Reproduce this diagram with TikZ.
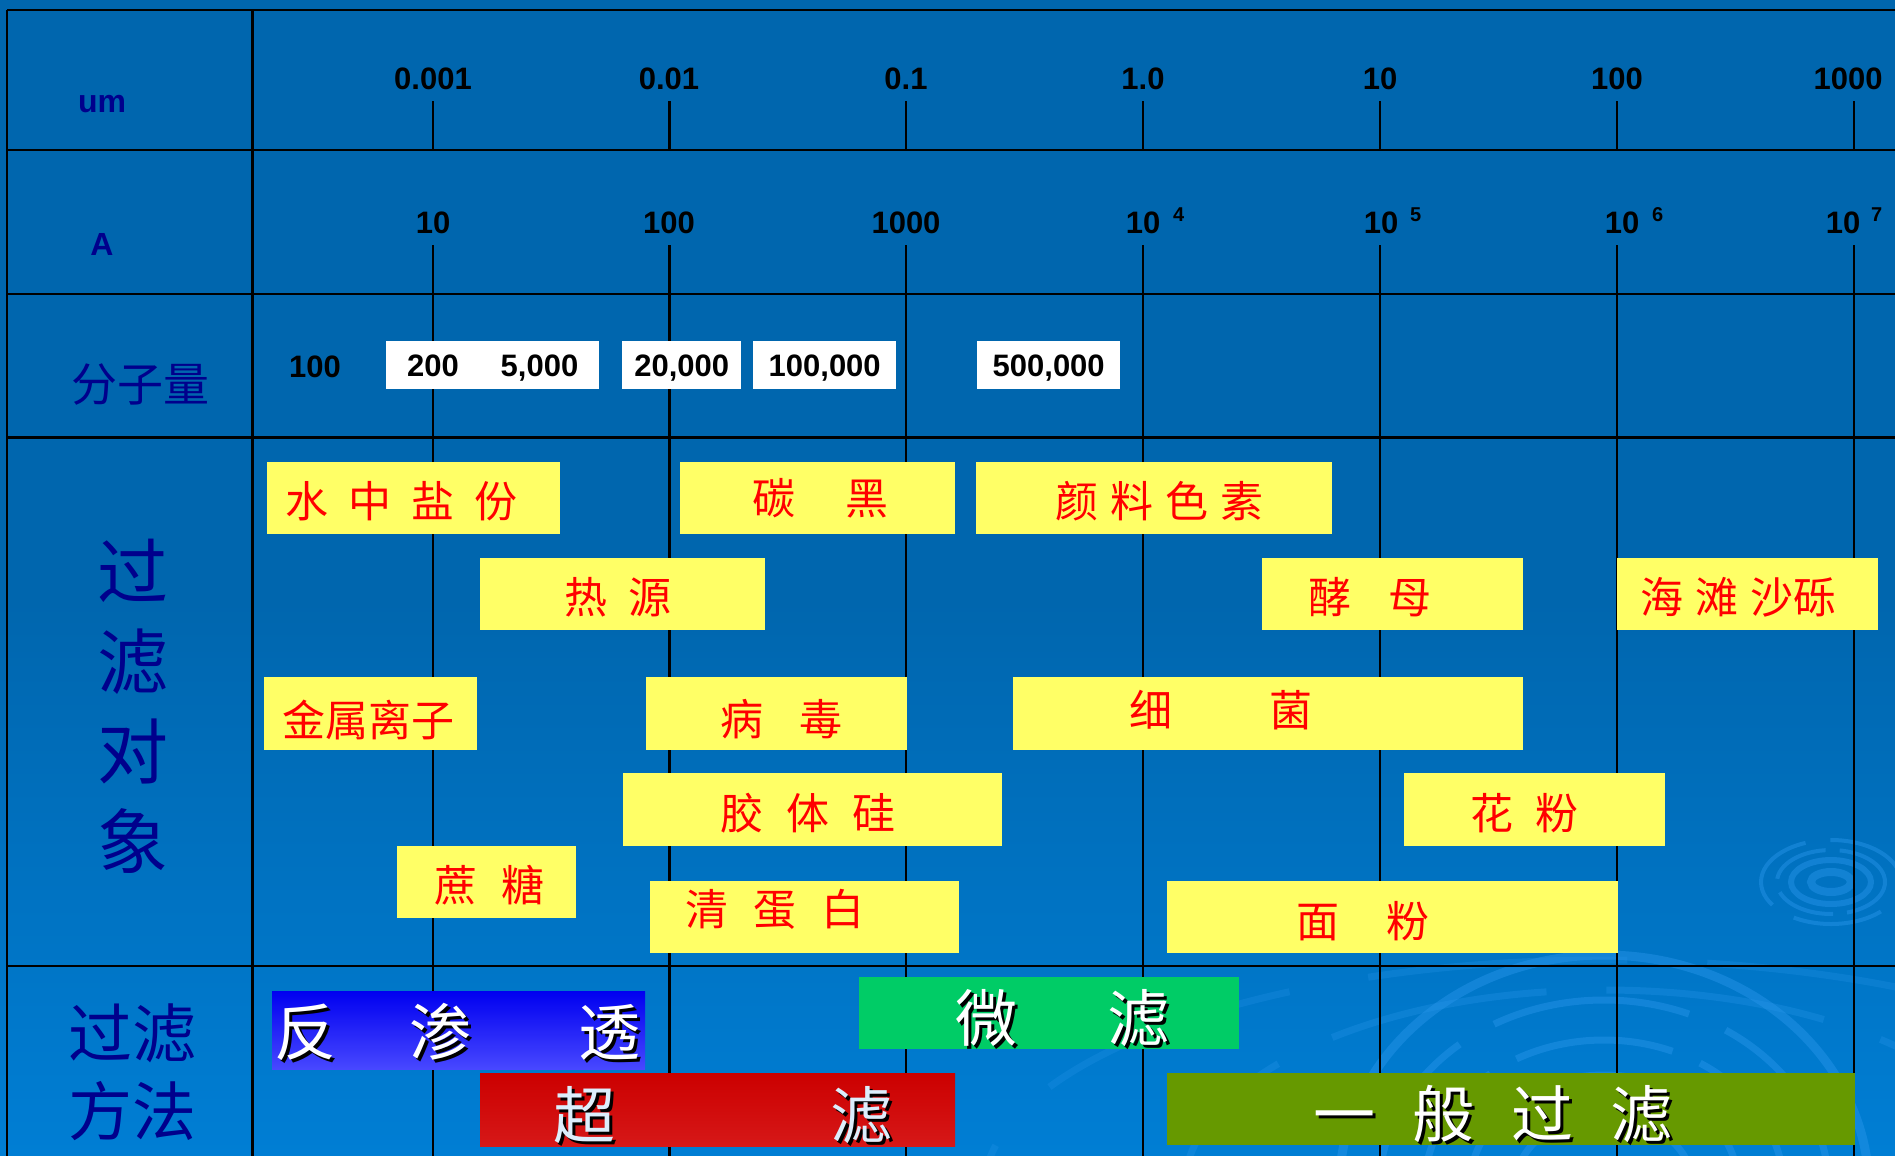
\documentclass[tikz,border=0pt]{standalone}
\usepackage{fontspec}
\setmainfont{Liberation Sans}
\newfontfamily\cjk{Noto Sans CJK SC}
\usetikzlibrary{calc}
\definecolor{bgtop}{RGB}{0,102,174}
\definecolor{bgbot}{RGB}{0,126,212}
\definecolor{navytxt}{RGB}{0,0,140}
\definecolor{yfill}{RGB}{255,255,102}
\definecolor{rtext}{RGB}{255,0,0}
\definecolor{ripplec}{RGB}{40,150,235}
\definecolor{roblueA}{RGB}{0,0,240}
\definecolor{roblueB}{RGB}{72,72,255}
\definecolor{ufredA}{RGB}{204,0,0}
\definecolor{ufredB}{RGB}{214,24,24}
\definecolor{mfgreen}{RGB}{0,204,102}
\definecolor{gfolive}{RGB}{102,153,0}
\definecolor{ufwhite}{RGB}{220,238,252}
\begin{document}
\begin{tikzpicture}[x=1pt,y=-1pt,
  gridln/.style={line width=2.2pt,black},
  numlab/.style={font=\fontsize{31}{31}\selectfont\bfseries,anchor=base,inner sep=0pt},
  suplab/.style={font=\fontsize{20}{20}\selectfont\bfseries,anchor=base west,inner sep=0pt},
  axislab/.style={font=\fontsize{32}{32}\selectfont\bfseries,text=navytxt,anchor=base,inner sep=0pt},
  wbox/.style={fill=white,anchor=north west,inner sep=0pt,text height=22pt,text depth=0pt,font=\fontsize{31}{31}\selectfont\bfseries},
  ybox/.style={fill=yfill,anchor=north west,inner sep=0pt},
  objtext/.style={font=\cjk\fontsize{43}{43}\selectfont,text=rtext,anchor=west,inner sep=0pt},
  mbox/.style={anchor=north west,inner sep=0pt},
  shadowtxt/.style={font=\cjk\fontsize{62}{62}\selectfont,text=black,anchor=west,inner sep=0pt},
  whitetxt/.style={font=\cjk\fontsize{62}{62}\selectfont,text=white,anchor=west,inner sep=0pt},
  ripple/.style={draw=ripplec,line width=7pt,opacity=0.45}
]
\useasboundingbox (0,0) rectangle (1895,1156);
% background
\fill[bgtop] (0,0) rectangle (1895,1156);
\shade[top color=bgtop,bottom color=bgbot] (0,600) rectangle (1895,1156);

% ripples (small)
\draw[ripple,line width=8pt] (1831,882) ellipse [x radius=20pt,y radius=10pt];
\draw[ripple,line width=6pt] (1831,882) ellipse [x radius=40pt,y radius=22pt];
\draw[ripple,line width=4pt,dash pattern=on 60pt off 14pt] (1831,882) ellipse [x radius=54pt,y radius=32pt];
\draw[ripple,line width=4pt,dash pattern=on 90pt off 25pt] (1831,882) ellipse [x radius=70pt,y radius=42pt];
% ripples (large)
\begin{scope}
\clip (0,945) rectangle (1895,1156);
\draw[ripple] (1604,1190) ellipse [x radius=90pt,y radius=75pt];
\draw[ripple] (1604,1190) ellipse [x radius=135pt,y radius=115pt];
\draw[ripple,dash pattern=on 160pt off 30pt] (1604,1190) ellipse [x radius=180pt,y radius=150pt];
\draw[ripple,dash pattern=on 200pt off 40pt] (1604,1190) ellipse [x radius=225pt,y radius=190pt];
\draw[ripple,line width=9pt] (1604,1190) ellipse [x radius=265pt,y radius=235pt];
\draw[ripple,opacity=0.3,dash pattern=on 220pt off 60pt] (1604,1190) ellipse [x radius=420pt,y radius=200pt];
\draw[ripple,opacity=0.25,dash pattern=on 260pt off 80pt] (1604,1190) ellipse [x radius=620pt,y radius=230pt];
\end{scope}

% grid
\foreach \yy in {10,150,294,437.5,966} \draw[gridln] (7,\yy) -- (1895,\yy);
\draw[gridln] (7,10) -- (7,1156);
\draw[gridln] (252.5,10) -- (252.5,1156);
\foreach \xx in {433,669.5,906,1143,1380,1617,1854} {
  \draw[gridln] (\xx,101) -- (\xx,150);
  \draw[gridln] (\xx,245) -- (\xx,1156);
}

% row headers
\node[axislab] (um) at (102,112) {um};
\node[axislab] (ang) at (102,255) {A};
\node[font=\cjk\fontsize{46}{46}\selectfont,text=navytxt,inner sep=0pt] (mw) at (140,384) {分子量};
\node[font=\cjk\fontsize{71}{90}\selectfont,text=navytxt,inner sep=0pt,align=center] (objlab) at (133,706) {过\\滤\\对\\象};
\node[font=\cjk\fontsize{64}{78}\selectfont,text=navytxt,inner sep=0pt,align=center] (methlab) at (132,1072) {过滤\\方法};

% um scale
\node[numlab] (u1) at (433,89) {0.001};
\node[numlab] (u2) at (669,89) {0.01};
\node[numlab] (u3) at (906,89) {0.1};
\node[numlab] (u4) at (1143,89) {1.0};
\node[numlab] (u5) at (1380,89) {10};
\node[numlab] (u6) at (1617,89) {100};
\node[numlab] (u7) at (1848,89) {1000};

% Angstrom scale
\node[numlab] (a1) at (433,233) {10};
\node[numlab] (a2) at (669,233) {100};
\node[numlab] (a3) at (906,233) {1000};
\node[numlab] (a4) at (1143,233) {10};
\node[suplab] (a4s) at (1173,221) {4};
\node[numlab] (a5) at (1381,233) {10};
\node[suplab] (a5s) at (1410,221) {5};
\node[numlab] (a6) at (1622,233) {10};
\node[suplab] (a6s) at (1652,221) {6};
\node[numlab] (a7) at (1843,233) {10};
\node[suplab] (a7s) at (1871,221) {7};

% molecular weights
\node[numlab] (m0) at (315,377) {100};
\node[wbox,minimum width=213pt,minimum height=48pt] (m1) at (386,341) {200\hspace{42pt}5,000};
\node[wbox,minimum width=119pt,minimum height=48pt] (m2) at (622,341) {20,000};
\node[wbox,minimum width=143pt,minimum height=48pt] (m3) at (753,341) {100,000};
\node[wbox,minimum width=143pt,minimum height=48pt] (m4) at (977,341) {500,000};

% filtration objects
\node[ybox,minimum width=293pt,minimum height=72pt] (b1) at (267,462) {};
\node[objtext] (t1) at ($(b1.west)+(18,3)$) {水\hspace{20pt}中\hspace{20pt}盐\hspace{20pt}份};
\node[ybox,minimum width=285pt,minimum height=72pt] (b2) at (480,558) {};
\node[objtext] (t2) at ($(b2.west)+(84,3)$) {热\hspace{21pt}源};
\node[ybox,minimum width=213pt,minimum height=73pt] (b3) at (264,677) {};
\node[objtext] (t3) at ($(b3.west)+(18,6)$) {金属离子};
\node[ybox,minimum width=179pt,minimum height=72pt] (b4) at (397,846) {};
\node[objtext] (t4) at ($(b4.west)+(37,3)$) {蔗\hspace{24pt}糖};
\node[ybox,minimum width=275pt,minimum height=72pt] (b5) at (680,462) {};
\node[objtext] (t5) at ($(b5.west)+(72,0)$) {碳\hspace{50pt}黑};
\node[ybox,minimum width=356pt,minimum height=72pt] (b6) at (976,462) {};
\node[objtext] (t6) at ($(b6.west)+(79,3)$) {颜\hspace{12pt}料\hspace{12pt}色\hspace{12pt}素};
\node[ybox,minimum width=261pt,minimum height=73pt] (b7) at (646,677) {};
\node[objtext] (t7) at ($(b7.west)+(74,5)$) {病\hspace{36pt}毒};
\node[ybox,minimum width=510pt,minimum height=73pt] (b8) at (1013,677) {};
\node[objtext] (t8) at ($(b8.west)+(116,-4)$) {细\hspace{97pt}菌};
\node[ybox,minimum width=379pt,minimum height=73pt] (b9) at (623,773) {};
\node[objtext] (t9) at ($(b9.west)+(97,3)$) {胶\hspace{23pt}体\hspace{23pt}硅};
\node[ybox,minimum width=309pt,minimum height=72pt] (b10) at (650,881) {};
\node[objtext] (t10) at ($(b10.west)+(35,-8)$) {清\hspace{25pt}蛋\hspace{25pt}白};
\node[ybox,minimum width=451pt,minimum height=72pt] (b11) at (1167,881) {};
\node[objtext] (t11) at ($(b11.west)+(129,4)$) {面\hspace{47pt}粉};
\node[ybox,minimum width=261pt,minimum height=72pt] (b12) at (1262,558) {};
\node[objtext] (t12) at ($(b12.west)+(46,3)$) {酵\hspace{37pt}母};
\node[ybox,minimum width=261pt,minimum height=72pt] (b13) at (1617,558) {};
\node[objtext] (t13) at ($(b13.west)+(23,3)$) {海\hspace{12pt}滩\hspace{12pt}沙砾};
\node[ybox,minimum width=261pt,minimum height=73pt] (b14) at (1404,773) {};
\node[objtext] (t14) at ($(b14.west)+(66,3)$) {花\hspace{22pt}粉};

% filtration methods
\node[mbox,minimum width=373pt,minimum height=78pt,top color=roblueA,bottom color=roblueB] (ro) at (272,991) {};
\node[shadowtxt] (ros) at ($(ro.west)+(5,5)$) {反\hspace{73pt}渗\hspace{107pt}透};
\node[whitetxt] (rot) at ($(ro.west)+(2,2)$) {反\hspace{73pt}渗\hspace{107pt}透};

\node[mbox,minimum width=475pt,minimum height=73pt,top color=ufredA,bottom color=ufredB] (uf) at (480,1073) {};
\node[shadowtxt] (ufs) at ($(uf.west)+(76,8)$) {超\hspace{215pt}滤};
\node[whitetxt,text=ufwhite] (uft) at ($(uf.west)+(73,5)$) {超\hspace{215pt}滤};

\node[mbox,minimum width=380pt,minimum height=72pt,fill=mfgreen] (mf) at (859,977) {};
\node[shadowtxt] (mfs) at ($(mf.west)+(99,8)$) {微\hspace{90pt}滤};
\node[whitetxt] (mft) at ($(mf.west)+(96,5)$) {微\hspace{90pt}滤};

\node[mbox,minimum width=688pt,minimum height=72pt,fill=gfolive] (gf) at (1167,1073) {};
\node[shadowtxt] (gfs) at ($(gf.west)+(149,8)$) {一\hspace{37pt}般\hspace{37pt}过\hspace{37pt}滤};
\node[whitetxt] (gft) at ($(gf.west)+(146,5)$) {一\hspace{37pt}般\hspace{37pt}过\hspace{37pt}滤};
\end{tikzpicture}
\end{document}
